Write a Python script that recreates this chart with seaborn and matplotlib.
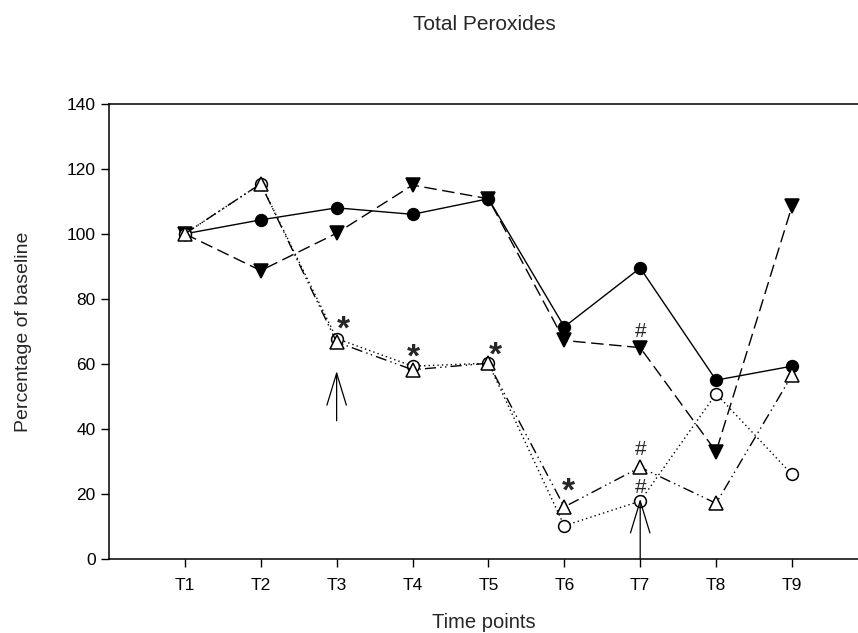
import pandas as pd
import matplotlib
matplotlib.use("Agg")
import matplotlib.pyplot as plt
import seaborn as sns

# datos (porcentaje respecto al basal)
tiempos = ["T1", "T2", "T3", "T4", "T5", "T6", "T7", "T8", "T9"]
posiciones = [1, 2, 3, 4, 5, 6, 7, 8, 9]

circulo_lleno = [100, 104.3, 108, 106, 110.8, 71.4, 89.5, 55, 59.3]
triangulo_lleno = [100, 88.7, 100.2, 115, 110.8, 67.2, 65, 33, 108.5]
circulo_vacio = [100, 115.4, 67.8, 59.3, 60.2, 10.2, 17.8, 50.8, 26]
triangulo_vacio = [100, 115.4, 66.7, 58.2, 60.2, 16, 28.2, 17.1, 56.5]

# marcas de significancia: posicion, altura (linea base del texto) y texto
marcas_x = [3.09, 4.01, 5.09, 6.06, 7, 7, 7]
marcas_y = [67.8, 59.1, 59.9, 18.1, 68.4, 32, 20.2]
marcas_txt = ["*", "*", "*", "*", "#", "#", "#"]

# flechas: x, y de la punta, y de la cola
flechas_x = [3, 7]
flechas_punta = [57.8, 18.5]
flechas_cola = [42.5, 0]

sns.set_style("ticks")
plt.rcParams['font.family'] = ['Liberation Sans', 'DejaVu Sans']

fig = plt.figure(figsize=(8.58, 6.33), dpi=100)
ax = fig.add_axes([0.127, 0.117, 0.873, 0.719])

series = [
    (circulo_lleno, 'o', 'black', '-', 8.5),
    (triangulo_lleno, 'v', 'black', (0, (9, 4)), 9.5),
    (circulo_vacio, 'o', 'white', (0, (1, 2.2)), 8.5),
    (triangulo_vacio, '^', 'white', (0, (8, 3, 1, 2.5, 1, 3)), 9.5),
]
for valores, marcador, relleno, estilo, tam in series:
    df = pd.DataFrame({"x": posiciones, "y": valores})
    sns.lineplot(data=df, x="x", y="y", ax=ax, color="black",
                 linestyle=estilo, linewidth=1.0, marker=marcador,
                 markersize=tam, markerfacecolor=relleno,
                 markeredgecolor="black", markeredgewidth=1.1)

for x, y, t in zip(marcas_x, marcas_y, marcas_txt):
    if t == "*":
        ax.text(x, y, t, fontsize=24, fontweight="bold", ha="center", va="baseline")
    else:
        ax.text(x, y, t, fontsize=15, ha="center", va="baseline")

for x, yp, yc in zip(flechas_x, flechas_punta, flechas_cola):
    ax.annotate("", xy=(x, yp), xytext=(x, yc),
                arrowprops=dict(arrowstyle="->,head_length=2.3,head_width=0.7",
                                mutation_scale=10, color="black", lw=0.9,
                                shrinkA=0, shrinkB=0))

ax.set_xlim(0, 9.87)
ax.set_ylim(0, 140)
ax.set_xticks(posiciones)
ax.set_xticklabels(tiempos)
ax.set_yticks(range(0, 141, 20))
ax.tick_params(axis="both", direction="out", length=6, width=1, labelsize=12.5,
               colors="black")
ax.tick_params(axis="x", pad=8)
for lado in ["left", "bottom", "top"]:
    ax.spines[lado].set_visible(True)
    ax.spines[lado].set_linewidth(1.1)
    ax.spines[lado].set_color("black")
ax.spines["right"].set_visible(False)

ax.set_xlabel("Time points", fontsize=14.5, labelpad=14)
ax.set_ylabel("Percentage of baseline", fontsize=14, labelpad=25)
fig.text(0.565, 0.962, "Total Peroxides", fontsize=15, ha="center", va="center")

fig.savefig("out.png", dpi=100)
